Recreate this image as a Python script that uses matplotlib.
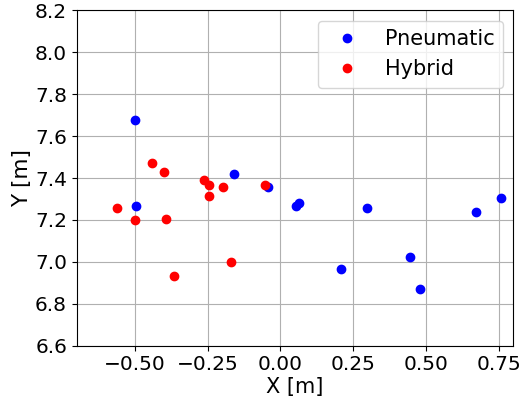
import matplotlib
matplotlib.use("Agg")
import matplotlib.pyplot as plt

pneu_x = [-0.50, -0.495, -0.159, -0.0435, 0.055, 0.064, 0.298, 0.207, 0.447, 0.481, 0.671, 0.760]
pneu_y = [7.675, 7.267, 7.419, 7.359, 7.267, 7.281, 7.256, 6.967, 7.021, 6.871, 7.238, 7.306]
hyb_x = [-0.563, -0.50, -0.44, -0.399, -0.392, -0.366, -0.263, -0.246, -0.246, -0.197, -0.170, -0.054]
hyb_y = [7.256, 7.20, 7.471, 7.427, 7.206, 6.932, 7.390, 7.365, 7.313, 7.357, 7.0, 7.365]

plt.rcParams['font.size'] = 14.5
fig, ax = plt.subplots(figsize=(5.22, 4.04), dpi=100)
ax.plot(pneu_x, pneu_y, 'o', color='blue', markersize=6, label='Pneumatic')
ax.plot(hyb_x, hyb_y, 'o', color='red', markersize=6, label='Hybrid')
ax.set_xlim(-0.7, 0.8)
ax.set_ylim(6.6, 8.2)
ax.set_xticks([-0.5, -0.25, 0.0, 0.25, 0.5, 0.75])
ax.set_yticks([6.6, 6.8, 7.0, 7.2, 7.4, 7.6, 7.8, 8.0, 8.2])
ax.grid(True)
ax.set_xlabel('X [m]', fontsize=15, labelpad=2)
ax.set_ylabel('Y [m]', fontsize=15.5, labelpad=2)
ax.legend(loc='upper right', fontsize=15)
fig.subplots_adjust(left=0.147, right=0.983, top=0.9745, bottom=0.1443)
fig.savefig('out.png', dpi=100)
